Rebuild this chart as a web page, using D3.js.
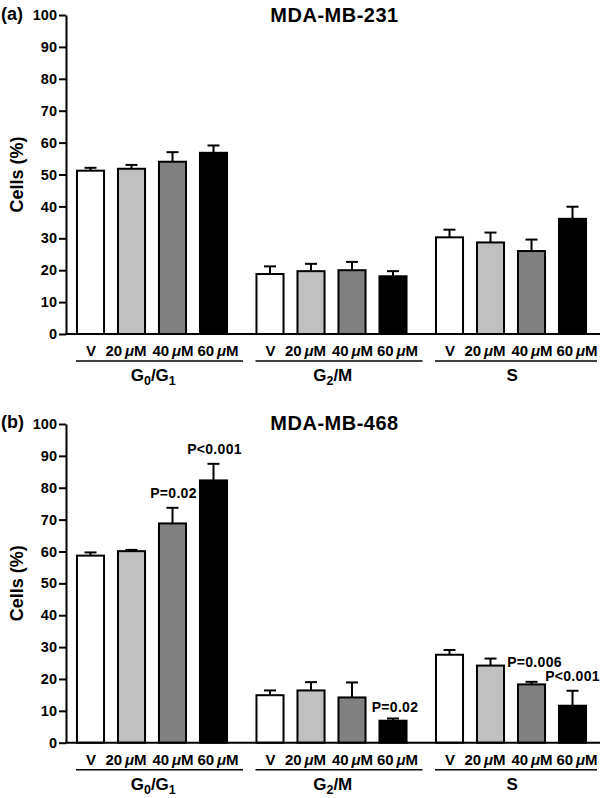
<!DOCTYPE html>
<html>
<head>
<meta charset="utf-8">
<script src="https://cdnjs.cloudflare.com/ajax/libs/d3/7.8.5/d3.min.js"></script>
<style>
  html, body { margin: 0; padding: 0; background: #fff; }
  svg { display: block; font-family: "Liberation Sans", Arial, Helvetica, sans-serif; }
</style>
</head>
<body>
<svg id="chart" width="600" height="798"></svg>
<script>
// ---------- data ----------
const groups = ["G0/G1", "G2/M", "S"];
const doses = ["V", "20", "40", "60"];
const doseColors = ["#ffffff", "#c0c0c0", "#808080", "#000000"];
const yTicks = [0, 10, 20, 30, 40, 50, 60, 70, 80, 90, 100];

// MDA-MB-231 (a): rows = groups, cols = doses
const meanA = [
  [51.2, 51.8, 54.0, 56.8],
  [18.8, 19.7, 20.0, 18.1],
  [30.3, 28.7, 26.0, 36.1]
];
const errA = [
  [0.9, 1.2, 3.0, 2.3],
  [2.4, 2.3, 2.6, 1.6],
  [2.4, 3.1, 3.6, 3.8]
];

// MDA-MB-468 (b)
const meanB = [
  [58.7, 60.1, 68.8, 82.3],
  [14.9, 16.4, 14.2, 6.9],
  [27.6, 24.2, 18.3, 11.6]
];
const errB = [
  [1.0, 0.4, 4.9, 5.2],
  [1.5, 2.6, 4.7, 0.7],
  [1.5, 2.2, 0.8, 4.7]
];

// p-value annotations for (b): group index, dose index, text, level (y units of baseline)
const pGroup = [0, 0, 1, 2, 2];
const pDose = [2, 3, 3, 2, 3];
const pText = ["P=0.02", "P<0.001", "P=0.02", "P=0.006", "P<0.001"];
const pLevel = [76.8, 90.6, 9.7, 23.8, 19.4];

// ---------- layout ----------
const svg = d3.select("#chart");
const axisX = 66;
const font = "'Liberation Sans', Arial, Helvetica, sans-serif";
const doseLabelShift = [0.5, -5.5, 0.5, 4.5];   // label offsets from bar centres (px)
const pShift = [1, 1, 2, 3, 0];

const xGroup = d3.scaleBand().domain(groups).range([62.5, 601]).padding(0);
const xDose = d3.scaleBand().domain(doses).range([7.5, 171.5]).paddingInner(0.34).paddingOuter(0.17);

function panel(opts) {
  const y = d3.scaleLinear().domain([0, 100]).range([opts.y0, opts.y100]);
  const g = svg.append("g");

  // y axis
  const ax = g.append("g")
    .attr("transform", `translate(${axisX},0)`)
    .call(d3.axisLeft(y).tickValues(yTicks).tickSize(7).tickSizeOuter(0).tickPadding(2));
  ax.select(".domain").attr("stroke", "#000").attr("stroke-width", 2);
  ax.selectAll(".tick line").attr("stroke", "#000").attr("stroke-width", 2);
  ax.selectAll(".tick text")
    .attr("font-family", font).attr("font-size", 14.5).attr("font-weight", "bold").attr("fill", "#000");

  // y label
  g.append("text")
    .attr("transform", `translate(23,${y(50)}) rotate(-90)`)
    .attr("text-anchor", "middle")
    .attr("font-size", 18).attr("font-weight", "bold")
    .text("Cells (%)");

  // panel letter and title
  g.append("text").attr("x", 1).attr("y", opts.letterY)
    .attr("font-size", 18).attr("font-weight", "bold").text(opts.letter);
  g.append("text").attr("x", 334.5).attr("y", opts.titleY)
    .attr("text-anchor", "middle").attr("font-size", 20).attr("font-weight", "bold")
    .attr("letter-spacing", 0.5).text(opts.title);

  // bars
  const cells = [];
  groups.forEach((gr, gi) => doses.forEach((d, di) => {
    cells.push({ gr, gi, d, di, v: opts.mean[gi][di], e: opts.err[gi][di] });
  }));
  const bw = xDose.bandwidth();
  const bx = c => xGroup(c.gr) + xDose(c.d);
  const cx = c => bx(c) + bw / 2;

  // error bars
  g.selectAll(".eb").data(cells).enter().append("line")
    .attr("x1", cx).attr("x2", cx)
    .attr("y1", c => y(c.v)).attr("y2", c => y(c.v + c.e))
    .attr("stroke", "#000").attr("stroke-width", 2);
  g.selectAll(".cap").data(cells).enter().append("line")
    .attr("x1", c => cx(c) - 6).attr("x2", c => cx(c) + 6)
    .attr("y1", c => y(c.v + c.e)).attr("y2", c => y(c.v + c.e))
    .attr("stroke", "#000").attr("stroke-width", 2);

  g.selectAll(".bar").data(cells).enter().append("rect")
    .attr("x", bx).attr("width", bw)
    .attr("y", c => y(c.v)).attr("height", c => y(0) - y(c.v))
    .attr("fill", c => doseColors[c.di])
    .attr("stroke", "#000").attr("stroke-width", 2);

  // x baseline
  g.append("line").attr("x1", axisX - 1).attr("x2", 600)
    .attr("y1", y(0)).attr("y2", y(0)).attr("stroke", "#000").attr("stroke-width", 2);

  // dose labels
  const dl = g.selectAll(".dl").data(cells).enter().append("text")
    .attr("x", c => cx(c) + doseLabelShift[c.di]).attr("y", y(0) + 22)
    .attr("text-anchor", "middle").attr("font-size", 15).attr("font-weight", "bold");
  dl.each(function(c) {
    const t = d3.select(this);
    if (c.d === "V") { t.text("V"); return; }
    t.append("tspan").text(c.d + "\u2009");
    t.append("tspan").attr("font-style", "italic").text("\u03bc");
    t.append("tspan").text("M");
  });

  // group underlines and labels
  groups.forEach((gr, gi) => {
    const s = xGroup(gr);
    g.append("line").attr("x1", s + 13.5).attr("x2", Math.min(s + 180.5, 597))
      .attr("y1", y(0) + 27).attr("y2", y(0) + 27)
      .attr("stroke", "#000").attr("stroke-width", 1.5);
    const t = g.append("text").attr("x", s + xGroup.bandwidth() / 2 + 1).attr("y", y(0) + 47)
      .attr("text-anchor", "middle").attr("font-size", 17).attr("font-weight", "bold");
    if (gi === 0) {
      t.append("tspan").text("G");
      t.append("tspan").attr("font-size", 12.5).attr("dy", 4).text("0");
      t.append("tspan").attr("dy", -4).text("/G");
      t.append("tspan").attr("font-size", 12.5).attr("dy", 4).text("1");
    } else if (gi === 1) {
      t.append("tspan").text("G");
      t.append("tspan").attr("font-size", 12.5).attr("dy", 4).text("2");
      t.append("tspan").attr("dy", -4).text("/M");
    } else {
      t.text("S");
    }
  });

  // p-value labels
  if (opts.p) {
    opts.p.text.forEach((txt, i) => {
      const c = { gr: groups[opts.p.g[i]], d: doses[opts.p.d[i]] };
      g.append("text")
        .attr("x", cx(c) + pShift[i])
        .attr("y", y(opts.p.level[i]))
        .attr("text-anchor", "middle").attr("font-size", 14).attr("font-weight", "bold")
        .attr("letter-spacing", 0.3)
        .text(txt);
    });
  }
}

panel({ y0: 334, y100: 15, letter: "(a)", letterY: 20, title: "MDA-MB-231", titleY: 22,
        mean: meanA, err: errA });
panel({ y0: 742.7, y100: 424, letter: "(b)", letterY: 428, title: "MDA-MB-468", titleY: 429.5,
        mean: meanB, err: errB,
        p: { g: pGroup, d: pDose, text: pText, level: pLevel } });
</script>
</body>
</html>
